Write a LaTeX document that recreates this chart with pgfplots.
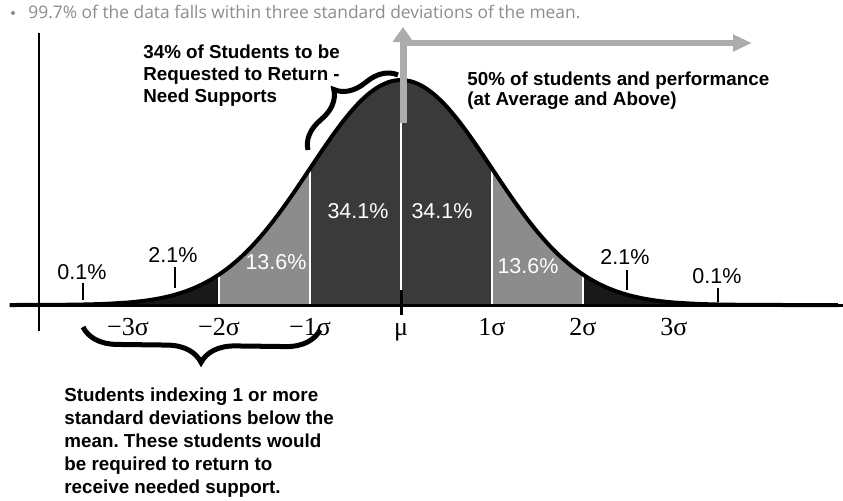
\documentclass[border=0pt]{standalone}
\usepackage{pgfplots}
\usepackage{pgfplotstable}
\pgfplotsset{compat=1.18}
\usepackage{fontspec}
\setmainfont{Liberation Sans}
\newfontfamily\serif{Liberation Serif}
\newfontfamily\light{Open Sans}
\usetikzlibrary{arrows.meta,decorations.pathreplacing}
\frenchspacing
\definecolor{darkc}{RGB}{58,58,58}
\definecolor{midc}{RGB}{140,140,140}
\definecolor{outc}{RGB}{25,25,25}
\definecolor{arrowc}{RGB}{172,172,172}
\definecolor{toptext}{RGB}{140,140,140}
\newcommand{\bfs}{\fontsize{9.4pt}{11pt}\selectfont\bfseries}
\newcommand{\pcs}{\fontsize{10.75pt}{12pt}\selectfont}
\pgfplotstableread{
z d
-4.30 0
-4.00 0.00013
-3.75 0.00035
-3.50 0.00087
-3.25 0.00203
-3.00 0.00443
-2.875 0.00640
-2.75 0.00909
-2.625 0.01273
-2.50 0.01753
-2.375 0.02377
-2.25 0.03174
-2.125 0.04173
-2.00 0.05399
-1.875 0.06879
-1.75 0.08628
-1.625 0.10654
-1.50 0.12952
-1.375 0.15502
-1.25 0.18265
-1.125 0.21187
-1.00 0.24197
-0.875 0.27205
-0.75 0.30114
-0.625 0.32816
-0.50 0.35207
-0.375 0.37185
-0.25 0.38667
-0.125 0.39584
0.00 0.39894
0.125 0.39584
0.25 0.38667
0.375 0.37185
0.50 0.35207
0.625 0.32816
0.75 0.30114
0.875 0.27205
1.00 0.24197
1.125 0.21187
1.25 0.18265
1.375 0.15502
1.50 0.12952
1.625 0.10654
1.75 0.08628
1.875 0.06879
2.00 0.05399
2.125 0.04173
2.25 0.03174
2.375 0.02377
2.50 0.01753
2.625 0.01273
2.75 0.00909
2.875 0.00640
3.00 0.00443
3.25 0.00203
3.50 0.00087
3.75 0.00035
4.00 0.00013
4.30 0
4.80 0
}\curve
\begin{document}
\begin{tikzpicture}
\path[use as bounding box] (0,0) rectangle (421.5pt,250pt);
\begin{axis}[
  at={(5pt,0pt)}, anchor=south west,
  scale only axis, width=416.5pt, height=250pt,
  xmin=-4.2967, xmax=4.8571, ymin=-0.3457, ymax=0.5408,
  axis x line=middle, axis y line=none,
  x axis line style={-, line width=1.5pt, black},
  axis on top=true,
  xtick={-3,-2,-1,0,1,2,3},
  xticklabels={−3σ,−2σ,−1σ,μ,1σ,2σ,3σ},
  major tick length=0pt,
  xticklabel style={font=\serif\fontsize{13pt}{14pt}\selectfont, anchor=base, inner sep=0pt, yshift=-15pt},
  ytick=\empty,
  clip=false,
]
\addplot[fill=outc, draw=none, smooth, restrict x to domain=-4.3:-2] table {\curve} \closedcycle;
\addplot[fill=midc, draw=none, smooth, restrict x to domain=-2:-1] table {\curve} \closedcycle;
\addplot[fill=darkc, draw=none, smooth, restrict x to domain=-1:1] table {\curve} \closedcycle;
\addplot[fill=midc, draw=none, smooth, restrict x to domain=1:2] table {\curve} \closedcycle;
\addplot[fill=outc, draw=none, smooth, restrict x to domain=2:4.8] table {\curve} \closedcycle;
\addplot[ycomb, white, line width=1pt] coordinates {(-2,0.05399)(-1,0.24197)(0,0.39894)(1,0.24197)(2,0.05399)};
\addplot[black, line width=2pt, smooth] table {\curve};
\addplot[black, line width=1.5pt] coordinates {(0,-0.018)(0,0.027)};
\addplot[black, line width=1pt] coordinates {(-3.49,0.009)(-3.49,0.039)};
\addplot[black, line width=1pt] coordinates {(-2.48,0.030)(-2.48,0.067)};
\addplot[black, line width=1pt] coordinates {(2.48,0.027)(2.48,0.062)};
\addplot[black, line width=1pt] coordinates {(3.48,0.005)(3.48,0.030)};
\end{axis}
\begin{scope}[shift={(0,250pt)}, x=0.5pt, y=-0.5pt]
% vertical axis
\draw[black, line width=1pt] (39,33) -- (39,331);
% top note
\fill[toptext] (13,13) circle (2);
\node[anchor=base west, inner sep=0pt, text=toptext] at (28,18) {\resizebox{276pt}{!}{\light 99.7\% of the data falls within three standard deviations of the mean.}};
% percent labels
\node[anchor=base, inner sep=0pt, font=\pcs] at (82,279) {0.1\%};
\node[anchor=base, inner sep=0pt, font=\pcs] at (173,262) {2.1\%};
\node[anchor=base, inner sep=0pt, font=\pcs, text=white] at (276,269) {13.6\%};
\node[anchor=base, inner sep=0pt, font=\pcs, text=white] at (358,218) {34.1\%};
\node[anchor=base, inner sep=0pt, font=\pcs, text=white] at (442,218) {34.1\%};
\node[anchor=base, inner sep=0pt, font=\pcs, text=white] at (528,273) {13.6\%};
\node[anchor=base, inner sep=0pt, font=\pcs] at (625,264) {2.1\%};
\node[anchor=base, inner sep=0pt, font=\pcs] at (717,283) {0.1\%};
% gray arrows
\draw[arrowc, line width=3pt, -{Triangle[width=8pt,length=9.5pt]}] (400,43) -- (752,43);
\draw[arrowc, line width=3.5pt, -{Triangle[width=10pt,length=7.5pt]}] (403,123) -- (403,27);
% braces
\draw[decorate, decoration={brace, amplitude=15pt, aspect=0.5}, line width=2.5pt] (308,150) -- (398,75);
\draw[decorate, decoration={brace, amplitude=17pt}, line width=2.5pt] (320,330) -- (83,327);
% texts
\node[anchor=base west, inner sep=0pt, font=\bfs] at (143,58) {34\% of Students to be};
\node[anchor=base west, inner sep=0pt, font=\bfs] at (143,80) {Requested to Return -};
\node[anchor=base west, inner sep=0pt, font=\bfs] at (143,102) {Need Supports};
\node[anchor=base west, inner sep=0pt, font=\bfs] at (467,85) {50\% of students and performance};
\node[anchor=base west, inner sep=0pt, font=\bfs] at (467,105) {(at Average and Above)};
\node[anchor=base west, inner sep=0pt, font=\bfs] at (64,401) {Students indexing 1 or more};
\node[anchor=base west, inner sep=0pt, font=\bfs] at (64,424) {standard deviations below the};
\node[anchor=base west, inner sep=0pt, font=\bfs] at (64,447) {mean. These students would};
\node[anchor=base west, inner sep=0pt, font=\bfs] at (64,470) {be required to return to};
\node[anchor=base west, inner sep=0pt, font=\bfs] at (64,493) {receive needed support.};
\end{scope}
\end{tikzpicture}
\end{document}
